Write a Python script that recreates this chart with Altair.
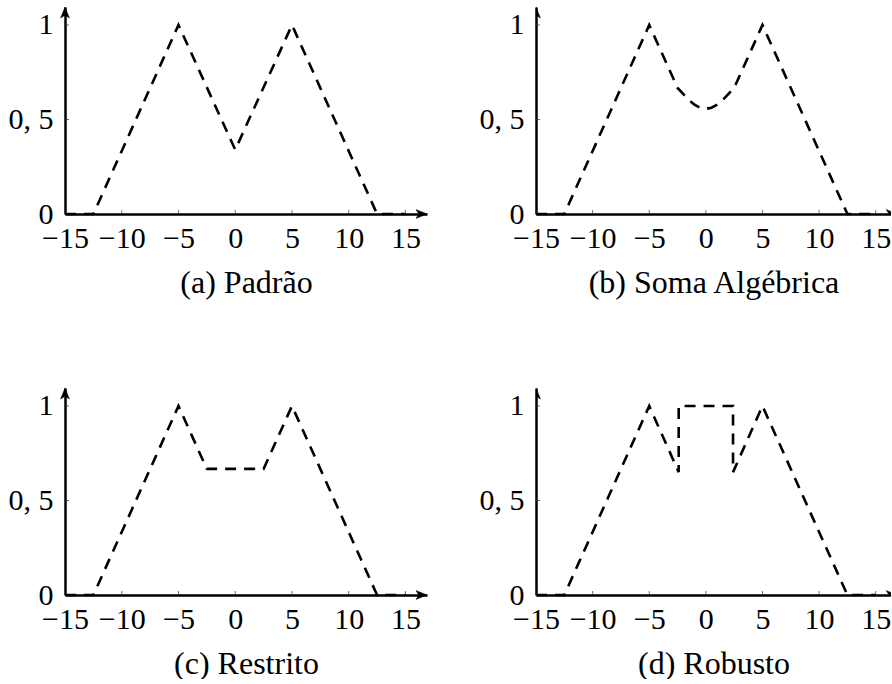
import altair as alt
import pandas as pd

# Inference curves: x position and membership degree for each operator
padrao_x = [-15, -12.5, -5, 0, 5, 12.5, 15]
padrao_y = [0, 0, 1, 0.34, 1, 0, 0]

soma_x = [-15, -12.5, -5, -2.5, -2, -1.5, -1, -0.5, 0, 0.5, 1, 1.5, 2, 2.5, 5, 12.5, 15]
soma_y = [0, 0, 1, 0.667, 0.635, 0.603, 0.578, 0.562, 0.556, 0.562, 0.578, 0.603, 0.635, 0.667, 1, 0, 0]

restrito_x = [-15, -12.5, -5, -2.5, 2.5, 5, 12.5, 15]
restrito_y = [0, 0, 1, 0.667, 0.667, 1, 0, 0]

robusto_x = [-15, -12.5, -5, -2.4, -2.4, 2.4, 2.4, 5, 12.5, 15]
robusto_y = [0, 0, 1, 0.65, 1, 1, 0.65, 1, 0, 0]

captions = ["(a) Padrão", "(b) Soma Algébrica", "(c) Restrito", "(d) Robusto"]

x_ticks = [-15, -10, -5, 0, 5, 10, 15]
y_ticks = [0, 0.5, 1]

X_MIN = -15
X_ARROW = 16.9      # tip of the x-axis arrow
Y_MAX = 1.095       # tip of the y-axis arrow
FONT = "Liberation Serif"
ARROW = "M0,0 L0.8,2 L0,1.5 L-0.8,2 Z"


def panel(xs, ys, caption, x_max, width, clip_arrows):
    line_df = pd.DataFrame({"x": xs, "y": ys, "i": list(range(len(xs)))})
    xscale = alt.Scale(domain=[X_MIN, x_max], nice=False, zero=False)
    yscale = alt.Scale(domain=[0, Y_MAX], nice=False, zero=False)

    x_axis = alt.Axis(
        values=x_ticks, ticks=False, grid=False, title=caption,
        labelExpr="datum.value < 0 ? '\u2212' + abs(datum.value) : '' + datum.value",
        labelFont=FONT, labelFontSize=30, labelColor="black", labelPadding=9,
        labelOverlap=False, labelFlush=False, labelBound=False,
        domainColor="black", domainWidth=2.5,
        titleFont=FONT, titleFontSize=32, titleFontWeight="normal",
        titleColor="black", titlePadding=14,
    )
    y_axis = alt.Axis(
        values=y_ticks, ticks=False, grid=False, title=None,
        labelExpr="datum.value == 0.5 ? '0, 5' : '' + datum.value",
        labelFont=FONT, labelFontSize=30, labelColor="black", labelPadding=12,
        labelOverlap=False, labelFlush=False, labelBound=False,
        domainColor="black", domainWidth=2.5,
    )
    enc_x = alt.X("x:Q", scale=xscale, axis=x_axis)
    enc_y = alt.Y("y:Q", scale=yscale, axis=y_axis)

    curve = alt.Chart(line_df).mark_line(
        color="black", strokeWidth=2.6, strokeDash=[11, 8], strokeCap="butt"
    ).encode(x=enc_x, y=enc_y, order=alt.Order("i:Q"))

    xt = alt.Chart(pd.DataFrame({"x": x_ticks, "y": [0] * len(x_ticks)})).mark_tick(
        orient="vertical", size=4, thickness=1, color="#333", yOffset=-2
    ).encode(x=enc_x, y=enc_y)

    yt = alt.Chart(pd.DataFrame({"x": [X_MIN] * 2, "y": y_ticks[1:]})).mark_tick(
        orient="horizontal", size=4, thickness=1, color="#333", xOffset=2
    ).encode(x=enc_x, y=enc_y)

    arrows = alt.Chart(pd.DataFrame({
        "x": [X_ARROW, X_MIN], "y": [0, Y_MAX], "a": [90, 0]
    })).mark_point(
        shape=ARROW, filled=True, fill="black", stroke="black", strokeWidth=0.5,
        opacity=1, size=121, clip=clip_arrows
    ).encode(x=enc_x, y=enc_y, angle=alt.Angle("a:Q", scale=None))

    return alt.layer(curve, xt, yt, arrows).properties(width=width, height=207)


W_LEFT = 362
W_RIGHT = 355

a = panel(padrao_x, padrao_y, captions[0], X_ARROW, W_LEFT, False)
b = panel(soma_x, soma_y, captions[1], 16.35, W_RIGHT, True)
c = panel(restrito_x, restrito_y, captions[2], X_ARROW, W_LEFT, False)
d = panel(robusto_x, robusto_y, captions[3], 16.35, W_RIGHT, True)

chart = alt.vconcat(
    alt.hconcat(a, b, spacing=51),
    alt.hconcat(c, d, spacing=51),
    spacing=89,
).properties(
    padding={"left": 8, "top": 6, "right": 0, "bottom": 0},
    background="white",
).configure_view(stroke=None)

chart.save("out.html", embed_options={"renderer": "svg", "actions": False})
